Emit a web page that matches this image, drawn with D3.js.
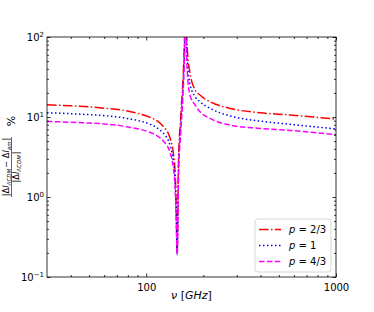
<!DOCTYPE html>
<html><head><meta charset="utf-8">
<script src="https://cdn.jsdelivr.net/npm/d3@7"></script>
<style>body{margin:0;background:#fff}svg{display:block;font-family:"DejaVu Sans",sans-serif}</style>
</head><body><svg id="c" width="374" height="312"></svg>
<script>
const freqGHz = [30,40,50,60,73,85,93,105,118,123,134,139,142,144,145.5,148,152,156,159,161.5,163,165,170,181,192,217,277,398,572,1000];
const p23 = [14.2,13.8,13.4,12.9,12.3,11.5,10.9,9.9,8.4,7.6,5.3,3.5,2.0,0.75,0.2,2.9,9.9,28,86,400,117,65,36,21.7,18.8,15.5,12.8,11.3,10.6,9.4];
const p1  = [11.3,11.0,10.7,10.4,9.9,9.3,8.9,8.1,6.9,6.3,4.3,2.8,1.6,0.6,0.19,2.35,8.0,22,70,400,85,47,26,17.9,15.5,12.8,10.3,8.9,8.1,7.1];
const p43 = [8.8,8.6,8.4,8.2,7.8,7.3,7.0,6.4,5.5,5.0,3.5,2.3,1.3,0.48,0.19,1.9,6.3,18,56,400,62,34,18.8,14.1,11.6,9.6,7.9,7.2,6.8,6.0];
const seriesNames = ["2/3","1","4/3"];
const seriesColors = ["#ff0000","#0000ff","#ff00ff"];
const xMajor = [100,1000];
const xMajorLabels = ["100","1000"];
const yMajor = [0.1,1,10,100];
const yMajorExp = ["\u22121","0","1","2"];

const L=47,R=336,T=37,B=277;
const svg=d3.select("#c");
const x=d3.scaleLog().domain([30,1000]).range([L,R]);
const y=d3.scaleLog().domain([0.1,100]).range([B,T]);

svg.append("defs").append("clipPath").attr("id","clp").append("rect")
  .attr("x",L).attr("y",T).attr("width",R-L).attr("height",B-T);

const series=[p23,p1,p43];
const dashes=["9.6,2.4,1.5,2.4","1.5,2.5","5.5,2.4"];
const line=d3.line().x(d=>x(d[0])).y(d=>y(d[1])).curve(d3.curveMonotoneX);
const g=svg.append("g").attr("clip-path","url(#clp)");
series.forEach((s,i)=>{
  g.append("path").datum(freqGHz.map((f,j)=>[f,s[j]]))
   .attr("d",line).attr("fill","none").attr("stroke",seriesColors[i])
   .attr("stroke-width",1.5).attr("stroke-dasharray",dashes[i]);
});

const xMinor=[];
[10,100].forEach(d=>{for(let k=2;k<=9;k++){const v=d*k;if(v>30&&v<1000)xMinor.push(v);}});
const yMinor=[];
[0.1,1,10].forEach(d=>{for(let k=2;k<=9;k++)yMinor.push(d*k);});

function axes(){
  const ax=svg.append("g");
  const xb=d3.axisBottom(x).tickValues(xMajor).tickSize(-3.5).tickFormat((d,i)=>xMajorLabels[i]).tickPadding(7);
  const gxb=ax.append("g").attr("transform",`translate(0,${B})`).call(xb);
  gxb.append("g").call(d3.axisBottom(x).tickValues(xMinor).tickSize(-2).tickFormat(""));
  const gxt=ax.append("g").attr("transform",`translate(0,${T})`).call(d3.axisTop(x).tickValues(xMajor).tickSize(-3.5).tickFormat(""));
  gxt.append("g").call(d3.axisTop(x).tickValues(xMinor).tickSize(-2).tickFormat(""));
  const gyl=ax.append("g").attr("transform",`translate(${L},0)`).call(d3.axisLeft(y).tickValues(yMajor).tickSize(-3.5).tickFormat(""));
  gyl.append("g").call(d3.axisLeft(y).tickValues(yMinor).tickSize(-2).tickFormat(""));
  const gyr=ax.append("g").attr("transform",`translate(${R},0)`).call(d3.axisRight(y).tickValues(yMajor).tickSize(-3.5).tickFormat(""));
  gyr.append("g").call(d3.axisRight(y).tickValues(yMinor).tickSize(-2).tickFormat(""));
  ax.selectAll(".domain").remove();
  ax.selectAll("line").attr("stroke","#000").attr("stroke-width",0.8);
  ax.selectAll("text").attr("font-family","DejaVu Sans").attr("font-size",10).attr("fill","#000");
  ax.append("rect").attr("x",L).attr("y",T).attr("width",R-L).attr("height",B-T)
    .attr("fill","none").attr("stroke","#000").attr("stroke-width",0.8);
  yMajor.forEach((v,i)=>{
    const t=ax.append("text").attr("x",L-3).attr("y",y(v)+4).attr("text-anchor","end")
      .attr("font-size",10).attr("fill","#000");
    t.append("tspan").text("10");
    t.append("tspan").attr("dy",-4).attr("font-size",7).text(yMajorExp[i]);
  });
}
axes();

const xl=svg.append("text").attr("x",(L+R)/2).attr("y",299).attr("text-anchor","middle").attr("font-size",11).attr("fill","#000");
xl.append("tspan").attr("font-style","italic").text("\u03bd");
xl.append("tspan").text(" [");
xl.append("tspan").attr("font-style","italic").text("GHz");
xl.append("tspan").text("]");

const yl=svg.append("g").attr("transform","translate(11,157) rotate(-90)");
function deltaI(t,sub){
  t.append("tspan").text("\u0394");
  t.append("tspan").attr("font-style","italic").text("I");
  t.append("tspan").attr("font-style","italic").attr("font-size",5.5).attr("dy",1.5).text(sub);
  t.append("tspan").attr("dy",-1.5).text("\u200a");
}
const num=yl.append("text").attr("x",-10).attr("y",-1.8).attr("text-anchor","middle").attr("font-size",8.3).attr("fill","#000");
num.append("tspan").text("|");
deltaI(num,"\u039bCDM");
num.append("tspan").text("\u2212 ");
deltaI(num,"am");
num.append("tspan").text("|");
yl.append("line").attr("x1",-40).attr("x2",20).attr("y1",0.5).attr("y2",0.5).attr("stroke","#000").attr("stroke-width",0.6);
const den=yl.append("text").attr("x",-10).attr("y",8).attr("text-anchor","middle").attr("font-size",8.3).attr("fill","#000");
den.append("tspan").text("|");
deltaI(den,"\u039bCDM");
den.append("tspan").text("|");
yl.append("text").attr("x",36).attr("y",4).attr("text-anchor","middle").attr("font-size",11).attr("fill","#000").text("%");

const lg=svg.append("g");
lg.append("rect").attr("x",255).attr("y",219).attr("width",76).attr("height",53).attr("rx",3)
  .attr("fill","#fff").attr("fill-opacity",0.8).attr("stroke","#ccc").attr("stroke-width",0.8);
const rowsY=[229.5,245.5,261.5];
seriesNames.forEach((n,i)=>{
  lg.append("line").attr("x1",259).attr("x2",281).attr("y1",rowsY[i]).attr("y2",rowsY[i])
    .attr("stroke",seriesColors[i]).attr("stroke-width",1.5).attr("stroke-dasharray",dashes[i]);
  const t=lg.append("text").attr("x",289).attr("y",rowsY[i]+3.5).attr("font-size",10).attr("fill","#000");
  t.append("tspan").attr("font-style","italic").text("p");
  t.append("tspan").text(" = "+n);
});
</script></body></html>
